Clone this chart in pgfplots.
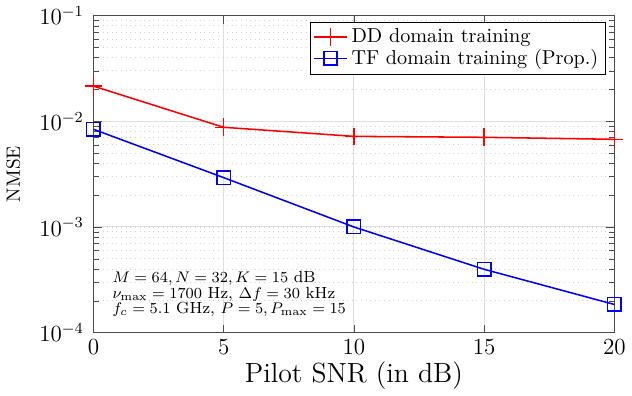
\documentclass[border=0pt]{standalone}
\usepackage{pgfplots}
\pgfplotsset{compat=1.18}
\begin{document}
\begin{tikzpicture}
\begin{axis}[
  scale only axis,
  width=271pt, height=165pt,
  xmin=0, xmax=20, ymode=log, ymin=1e-4, ymax=1e-1,
  xtick={0,5,10,15,20},
  ytick={1e-4,1e-3,1e-2,1e-1},
  xlabel={Pilot SNR (in dB)}, ylabel={NMSE},
  ylabel style={font=\normalsize, yshift=3pt},
  xlabel style={font=\Large, yshift=3pt},
  ticklabel style={font=\large},
  yticklabel style={xshift=-1.5pt},
  grid=both,
  major grid style={gray!25, line width=0.5pt},
  minor grid style={gray!35, dotted},
  tick align=inside,
  tick style={black!70},
  axis line style={black!70},
  clip mode=individual,
  legend style={at={(0.983,0.981)}, anchor=north east, draw=black, fill=white, inner sep=1.5pt, row sep=-2pt, font=\fontsize{10.5}{12.6}\selectfont},
  legend cell align=left,
]
\addplot[red, thick, mark=+, mark size=4.6pt, mark options={solid}] coordinates {
 (0,0.0215) (5,0.00877) (10,0.0072) (15,0.00705) (20,0.00675)};
\addlegendentry{DD domain training}
\addplot[blue, thick, mark=square, mark size=3.5pt] coordinates {
 (0,0.0084) (5,0.00293) (10,0.001) (15,0.000398) (20,0.000185)};
\addlegendentry{TF domain training (Prop.)}
\node[anchor=south west, align=left, font={\fontsize{8.4}{7.9}\selectfont\lineskiplimit=-100pt}, inner sep=0pt] at (rel axis cs:0.036,0.05)
 {$M=64, N=32, K=15$ dB\\ $\nu_{\max}=1700$ Hz, $\Delta f=30$ kHz\\ $f_c=5.1$ GHz, $P=5, P_{\max}=15$};
\end{axis}
\end{tikzpicture}
\end{document}
